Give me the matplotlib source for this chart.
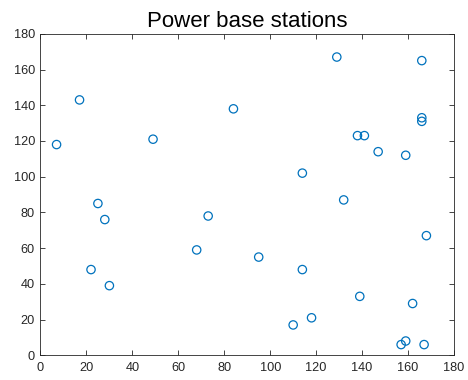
import matplotlib
matplotlib.use("Agg")
import matplotlib.pyplot as plt

plt.rcParams['font.family'] = ['Liberation Sans', 'DejaVu Sans']

x_vals = [7, 17, 25, 28, 22, 30, 49, 68, 73, 84, 95, 110, 114, 114, 118,
          129, 132, 138, 141, 139, 147, 157, 159, 159, 162, 166, 166, 166, 167, 168]
y_vals = [118, 143, 85, 76, 48, 39, 121, 59, 78, 138, 55, 17, 102, 48, 21,
          167, 87, 123, 123, 33, 114, 6, 8, 112, 29, 165, 133, 131, 6, 67]
title = "Power base stations"
ticks = [0, 20, 40, 60, 80, 100, 120, 140, 160, 180]

fig = plt.figure(figsize=(4.68, 3.80), dpi=100)
ax = fig.add_axes([0.0865, 0.065, 0.8835, 0.846])
ax.scatter(x_vals, y_vals, s=36, facecolors='none', edgecolors=(0, 0.447, 0.741), linewidths=0.9)
ax.set_xlim(0, 180)
ax.set_ylim(0, 180)
ax.set_xticks(ticks)
ax.set_yticks(ticks)
ax.tick_params(direction='in', top=True, right=True, length=3.5, width=0.6,
               colors=(0.15, 0.15, 0.15), labelsize=9.2)
ax.tick_params(axis='x', pad=5)
ax.tick_params(axis='y', pad=4)
for sp in ax.spines.values():
    sp.set_color((0.15, 0.15, 0.15))
    sp.set_linewidth(0.6)
ax.set_title(title, fontsize=16, color='black', pad=5)
fig.savefig("out.png", dpi=100)
